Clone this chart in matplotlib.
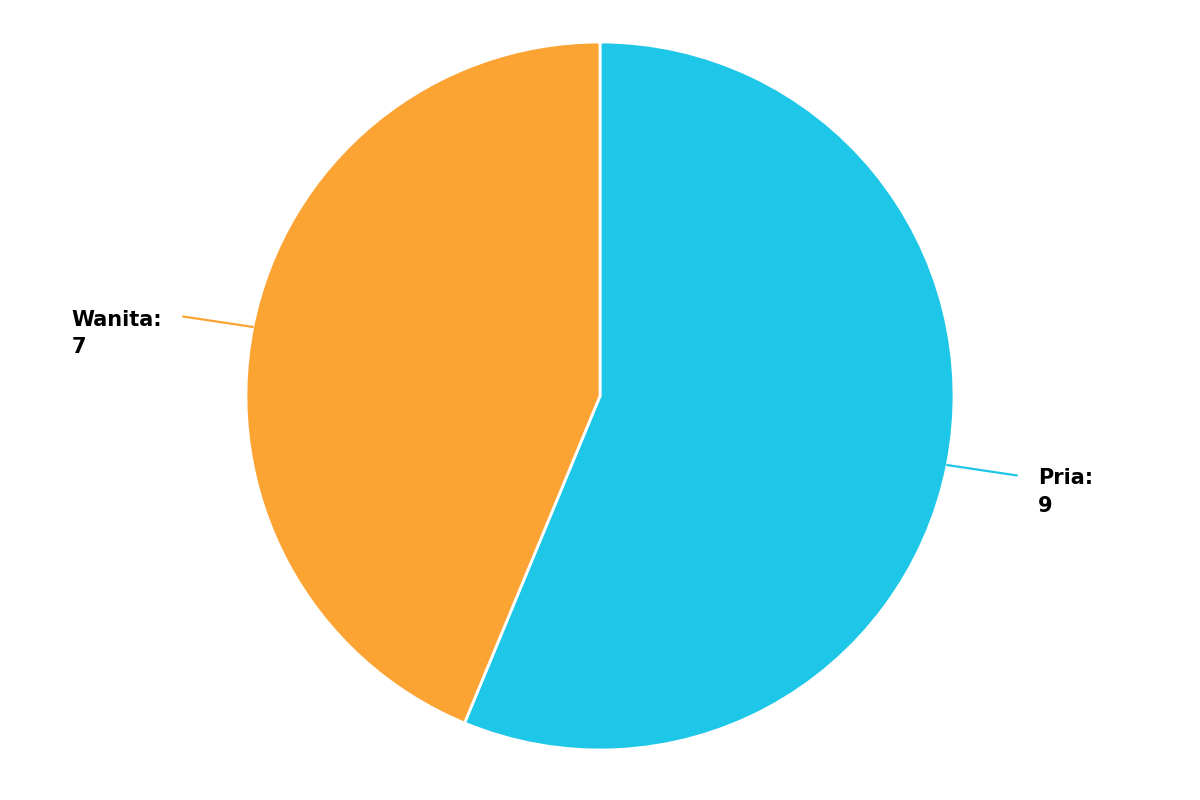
import numpy as np
import matplotlib
matplotlib.use("Agg")
import matplotlib.pyplot as plt

labels = ["Pria", "Wanita"]
values = [9, 7]
colors = ["#1EC6E8", "#FCA433"]

fig = plt.figure(figsize=(12, 8), dpi=100)
ax = fig.add_axes([0, 0, 1, 1])

cx, cy, r = 600, 404, 354
wedges, _ = ax.pie(values, colors=colors, startangle=90, counterclock=False,
                   center=(cx, cy), radius=r, frame=True,
                   wedgeprops=dict(edgecolor="white", linewidth=2))
ax.set_xlim(0, 1200)
ax.set_ylim(0, 800)
ax.set_aspect("equal")
ax.axis("off")

# labels with connector lines
for w, lab, val, col in zip(wedges, labels, values, colors):
    ang = np.deg2rad((w.theta1 + w.theta2) / 2)
    x0, y0 = cx + r * np.cos(ang), cy + r * np.sin(ang)
    x1 = cx + 425 * np.cos(ang)
    y1 = y0 + 0.75 * (425 - r) * np.sin(ang)
    ax.plot([x0, x1], [y0, y1], color=col, lw=1.6, solid_capstyle="round")
    right = np.cos(ang) > 0
    tx = x1 + 21 if right else x1 - 21
    ax.text(tx, y1 + 7, f"{lab}:\n{val}", ha="left" if right else "right",
            va="top", multialignment="left", fontsize=15, fontweight="bold",
            color="black", linespacing=1.45)

fig.savefig("out.png", dpi=100)
